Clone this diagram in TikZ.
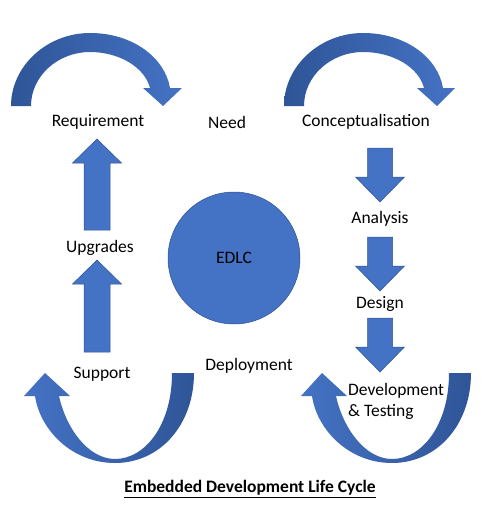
\documentclass[tikz,border=0pt]{standalone}
\usepackage{fontspec}
\setmainfont{Carlito}
\usepackage{tikz}

\definecolor{blockfill}{HTML}{4472C4}
\definecolor{blockline}{HTML}{2F528F}
\definecolor{arrowdark}{HTML}{2F5597}
\definecolor{arrowlight}{HTML}{4472C4}

\tikzset{
  blockarrow/.style={fill=blockfill, draw=blockline, line width=.5pt, line join=miter},
  curvetop/.style={left color=arrowdark, right color=arrowlight, draw=none},
  curvebottom/.style={left color=arrowlight, right color=arrowdark, draw=none},
  steplabel/.style={font=\fontsize{17.5}{21}\selectfont, inner sep=0pt}
}

\begin{document}
\begin{tikzpicture}[x=1pt, y=-1pt, line cap=round]
  \useasboundingbox (0,0) rectangle (501,511);

  % curved arrows, top row
  \shade[curvetop] (11,106) .. controls (11,66) and (47,33) .. (90,33)
    .. controls (133,33) and (165,58) .. (170,88) -- (182,88) -- (163,106) -- (143,88) -- (150,88)
    .. controls (145,68) and (120,52) .. (90,52)
    .. controls (58,52) and (31,76) .. (31,106) -- cycle;
  \shade[curvetop] (284,106) .. controls (284,66) and (320,33) .. (363,33)
    .. controls (406,33) and (438,58) .. (443,88) -- (455,88) -- (437,106) -- (417,88) -- (424,88)
    .. controls (419,68) and (394,52) .. (363,52)
    .. controls (331,52) and (304,76) .. (304,106) -- cycle;

  % curved arrows, bottom row
  \shade[curvebottom] (194,373) .. controls (194,425) and (160,463) .. (115,463)
    .. controls (72,463) and (40,430) .. (35,396) -- (24,396) -- (45,373) -- (70,396) -- (59,396)
    .. controls (66,428) and (88,459) .. (115,459)
    .. controls (145,459) and (172,425) .. (172,373) -- cycle;
  \shade[curvebottom] (471,373) .. controls (471,425) and (437,463) .. (392,463)
    .. controls (349,463) and (317,430) .. (312,396) -- (301,396) -- (322,373) -- (347,396) -- (336,396)
    .. controls (343,428) and (365,459) .. (392,459)
    .. controls (422,459) and (449,425) .. (449,373) -- cycle;

  % straight arrows
  \foreach \t in {148,237,318}
    \draw[blockarrow] (367.5,\t) -- (392.5,\t) -- (392.5,\t+29) -- (404.5,\t+29) -- (380,\t+54)
      -- (355.5,\t+29) -- (367.5,\t+29) -- cycle;
  \foreach \t/\b in {139/230,260/352}
    \draw[blockarrow] (97,\t) -- (121.5,\t+24) -- (110,\t+24) -- (110,\b) -- (84,\b)
      -- (84,\t+24) -- (72.5,\t+24) -- cycle;

  % centre
  \node[circle, fill=blockfill, draw=blockline, line width=.5pt, minimum size=132pt, inner sep=0pt,
        steplabel] (edlc) at (234,258) {EDLC};

  \node[steplabel] (req) at (98,122) {Requirement};
  \node[steplabel] (need) at (227,122) {Need};
  \node[steplabel] (concept) at (366,122) {Conceptualisation};
  \node[steplabel] (analysis) at (380,219) {Analysis};
  \node[steplabel] (design) at (380,304) {Design};
  \node[steplabel, align=left, anchor=west] (devtest) at (348,401) {Development\\\& Testing};
  \node[steplabel] (upgrades) at (100,248) {Upgrades};
  \node[steplabel] (support) at (102,374) {Support};
  \node[steplabel] (deploy) at (249,366) {Deployment};
  \node[steplabel] (title) at (250,489) {\underline{\textbf{Embedded Development Life Cycle}}};
\end{tikzpicture}
\end{document}
